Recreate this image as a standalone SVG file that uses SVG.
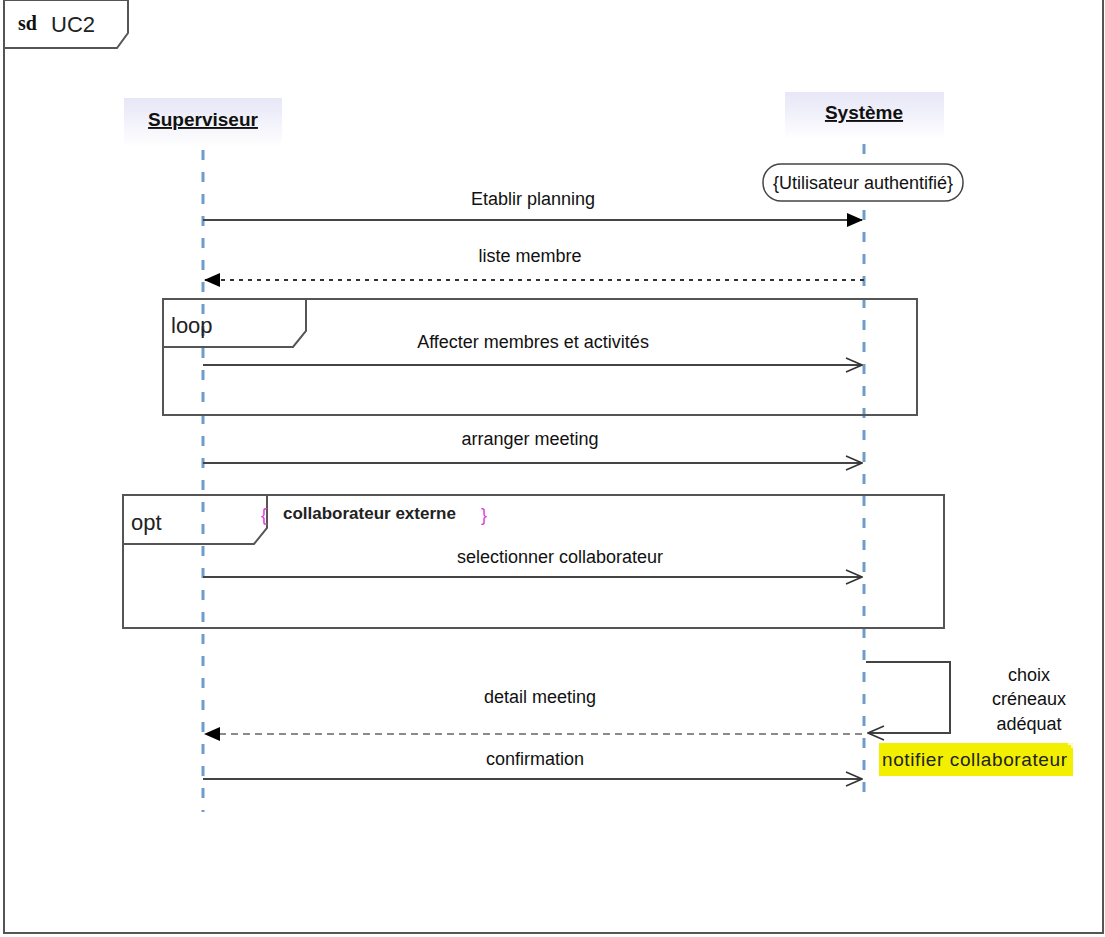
<svg xmlns="http://www.w3.org/2000/svg" width="1105" height="937" viewBox="0 0 1105 937">
<defs>
<linearGradient id="hd" x1="0" y1="0" x2="0" y2="1"><stop offset="0" stop-color="#e6e6f7"/><stop offset="1" stop-color="#ffffff"/></linearGradient>
<marker id="fill" markerWidth="16" markerHeight="14" refX="15" refY="7" orient="auto" markerUnits="userSpaceOnUse"><path d="M0,0 L16,7 L0,14 Z" fill="#000"/></marker>
<marker id="open" markerWidth="18" markerHeight="16" refX="17" refY="8" orient="auto" markerUnits="userSpaceOnUse"><path d="M1,1 L17,8 L1,15" fill="none" stroke="#333" stroke-width="1.5"/></marker>
</defs>
<style>
.frame{fill:none;stroke:#555;stroke-width:2}
.tab{fill:#fff;stroke:#555;stroke-width:2}
.life{stroke:#6f9ccb;stroke-width:3;stroke-dasharray:10 12}
.msg{stroke:#444;stroke-width:2;fill:none}
.ret{stroke:#333;stroke-width:2;stroke-dasharray:4 5;fill:none}
.ret2{stroke:#666;stroke-width:1.5;stroke-dasharray:7 5;fill:none}
.lbl{font-family:"Liberation Sans",Arial,sans-serif;font-size:18px;fill:#111;text-anchor:middle}
.kw{font-family:"Liberation Sans",Arial,sans-serif;font-size:22px;fill:#222}
.head{font-family:"Liberation Sans",Arial,sans-serif;font-size:19px;font-weight:bold;fill:#111;text-anchor:middle;text-decoration:underline}
</style>
<rect x="0" y="0" width="1105" height="937" fill="#fff"/>
<g id="frame-sd">
<rect x="4" y="-2" width="1099" height="935" class="frame"/>
<path d="M5,0 L128,0 L128,33 L117,48 L5,48" class="tab"/>
<text x="18" y="30" font-family="Liberation Serif,serif" font-size="20" font-weight="bold" fill="#111">sd</text>
<text x="51" y="32" class="kw">UC2</text>
</g>
<g id="superviseur">
<rect x="124" y="98" width="158" height="50" fill="url(#hd)"/>
<text x="203" y="126" class="head">Superviseur</text>
<line x1="203" y1="150" x2="203" y2="812" class="life"/>
</g>
<g id="systeme">
<rect x="785" y="92" width="159" height="48" fill="url(#hd)"/>
<text x="864" y="119" class="head">Système</text>
<line x1="864" y1="144" x2="864" y2="792" class="life"/>
</g>
<g id="constraint">
<rect x="763" y="164" width="200" height="37" rx="18" fill="#fff" stroke="#444" stroke-width="1.5"/>
<text x="863" y="189" class="lbl" font-size="17">{Utilisateur authentifié}</text>
</g>
<g id="loop-frame">
<rect x="163" y="299" width="754" height="116" class="frame"/>
<path d="M163,299 L306,299 L306,331 L293,347 L163,347" class="frame"/>
<text x="171" y="333" class="kw">loop</text>
</g>
<g id="opt-frame">
<rect x="123" y="495" width="821" height="133" class="frame"/>
<path d="M123,495 L267,495 L267,528 L254,544 L123,544" class="frame"/>
<text x="131" y="530" class="kw">opt</text>
<text x="261" y="521" font-family="Liberation Sans,sans-serif" font-size="18" fill="#e040e0">{</text>
<text x="283" y="519" font-family="Liberation Sans,sans-serif" font-size="17" font-weight="bold" fill="#222">collaborateur externe</text>
<text x="481" y="521" font-family="Liberation Sans,sans-serif" font-size="18" fill="#e040e0">}</text>
</g>
<g id="note">
<rect x="879" y="743" width="194" height="33" fill="#f2f000"/>
<path d="M1068,744 L1072,744 L1072,748" fill="none" stroke="#fff" stroke-width="1.5"/>
<text x="882" y="766" font-family="Liberation Sans,sans-serif" font-size="19" fill="#222" textLength="185">notifier collaborateur</text>
</g>
<g id="connectors">
<line x1="203" y1="220" x2="862" y2="220" class="msg" marker-end="url(#fill)"/>
<text x="533" y="205" class="lbl">Etablir planning</text>
<line x1="864" y1="280" x2="205" y2="280" class="ret" marker-end="url(#fill)"/>
<text x="530" y="262" class="lbl">liste membre</text>
<line x1="203" y1="365" x2="862" y2="365" class="msg" marker-end="url(#open)"/>
<text x="533" y="348" class="lbl">Affecter membres et activités</text>
<line x1="203" y1="463" x2="862" y2="463" class="msg" marker-end="url(#open)"/>
<text x="530" y="445" class="lbl">arranger meeting</text>
<line x1="203" y1="577" x2="862" y2="577" class="msg" marker-end="url(#open)"/>
<text x="560" y="563" class="lbl">selectionner collaborateur</text>
<path d="M866,662 L950,662 L950,733 L868,733" class="msg" marker-end="url(#open)"/>
<text x="1029" y="681" class="lbl" font-size="16">choix</text>
<text x="1029" y="705" class="lbl" font-size="16">créneaux</text>
<text x="1029" y="730" class="lbl" font-size="16">adéquat</text>
<line x1="862" y1="734" x2="205" y2="734" class="ret2" marker-end="url(#fill)"/>
<text x="540" y="703" class="lbl">detail meeting</text>
<line x1="203" y1="779" x2="862" y2="779" class="msg" marker-end="url(#open)"/>
<text x="535" y="765" class="lbl">confirmation</text>
</g>
</svg>
